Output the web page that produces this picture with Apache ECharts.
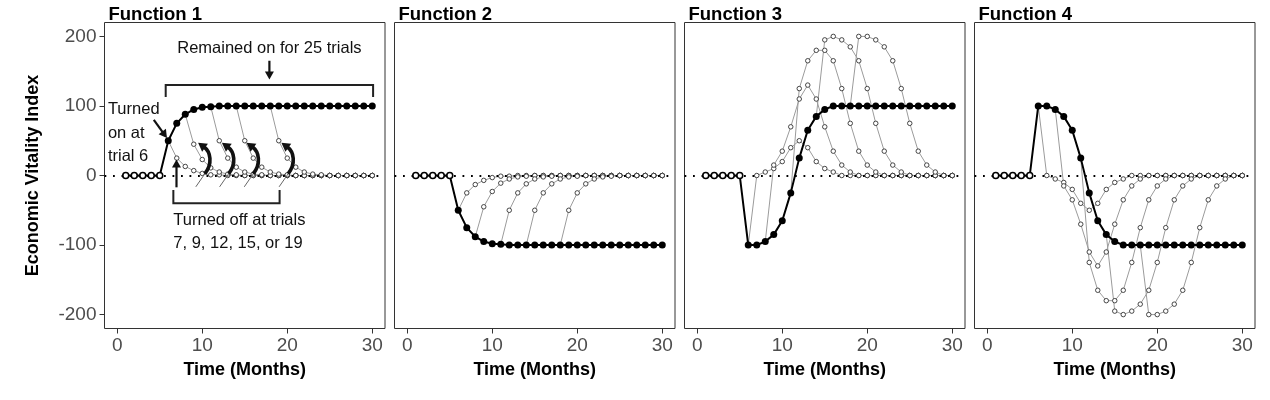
<!DOCTYPE html>
<html><head><meta charset="utf-8">
<script src="https://cdn.jsdelivr.net/npm/echarts@6/dist/echarts.min.js"></script>
<style>html,body{margin:0;padding:0;background:#fff}#c{width:1270px;height:400px}</style>
</head><body><div id="c"></div>
<script>
const N = null;
const trials = [1,2,3,4,5,6,7,8,9,10,11,12,13,14,15,16,17,18,19,20,21,22,23,24,25,26,27,28,29,30];
const xTicks = [0,10,20,30];
const yTicks = [-200,-100,0,100,200];
const panelTitles = ['Function 1','Function 2','Function 3','Function 4'];
const xTitle = 'Time (Months)';
const yTitle = 'Economic Vitality Index';
const turnedOnTrial = 6;

// Function 1
const f1_main  = [0,0,0,0,0, 50,75,88,95,98, 99,100,100,100,100, 100,100,100,100,100, 100,100,100,100,100, 100,100,100,100,100];
const f1_off7  = [N,N,N,N,N, 50,25,13,7,3, 1,1,0,0,0, 0,0,0,0,0, 0,0,0,0,0, 0,0,0,0,0];
const f1_off9  = [N,N,N,N,N, N,N,88,45,23, 11,5,2,1,0, 0,0,0,0,0, 0,0,0,0,0, 0,0,0,0,0];
const f1_off12 = [N,N,N,N,N, N,N,N,N,N, 99,50,25,12,5, 2,1,0,0,0, 0,0,0,0,0, 0,0,0,0,0];
const f1_off15 = [N,N,N,N,N, N,N,N,N,N, N,N,N,100,50, 25,12,5,2,1, 0,0,0,0,0, 0,0,0,0,0];
const f1_off19 = [N,N,N,N,N, N,N,N,N,N, N,N,N,N,N, N,N,100,50,25, 12,5,2,1,0, 0,0,0,0,0];
// Function 2
const f2_main  = [0,0,0,0,0, -50,-75,-88,-95,-98, -99,-100,-100,-100,-100, -100,-100,-100,-100,-100, -100,-100,-100,-100,-100, -100,-100,-100,-100,-100];
const f2_off7  = [N,N,N,N,N, -50,-25,-13,-7,-3, -1,-1,0,0,0, 0,0,0,0,0, 0,0,0,0,0, 0,0,0,0,0];
const f2_off9  = [N,N,N,N,N, N,N,-88,-45,-23, -11,-5,-2,-1,0, 0,0,0,0,0, 0,0,0,0,0, 0,0,0,0,0];
const f2_off12 = [N,N,N,N,N, N,N,N,N,N, -99,-50,-25,-12,-5, -2,-1,0,0,0, 0,0,0,0,0, 0,0,0,0,0];
const f2_off15 = [N,N,N,N,N, N,N,N,N,N, N,N,N,-100,-50, -25,-12,-5,-2,-1, 0,0,0,0,0, 0,0,0,0,0];
const f2_off19 = [N,N,N,N,N, N,N,N,N,N, N,N,N,N,N, N,N,-100,-50,-25, -12,-5,-2,-1,0, 0,0,0,0,0];
// Function 3
const f3_main  = [0,0,0,0,0, -100,-100,-95,-85,-65, -25,25,65,85,95, 100,100,100,100,100, 100,100,100,100,100, 100,100,100,100,100];
const f3_off7  = [N,N,N,N,N, -100,0,5,10,20, 40,50,40,20,10, 5,0,0,0,0, 0,0,0,0,0, 0,0,0,0,0];
const f3_off9  = [N,N,N,N,N, N,N,-95,15,35, 70,110,130,110,70, 35,15,5,0,0, 0,0,0,0,0, 0,0,0,0,0];
const f3_off12 = [N,N,N,N,N, N,N,N,N,N, -25,125,165,180,180, 165,125,75,35,15, 5,0,0,0,0, 0,0,0,0,0];
const f3_off15 = [N,N,N,N,N, N,N,N,N,N, N,N,N,85,195, 200,195,185,165,125, 75,35,15,5,0, 0,0,0,0,0];
const f3_off19 = [N,N,N,N,N, N,N,N,N,N, N,N,N,N,N, N,N,100,200,200, 195,185,165,125,75, 35,15,5,0,0];
// Function 4
const f4_main  = [0,0,0,0,0, 100,100,95,85,65, 25,-25,-65,-85,-95, -100,-100,-100,-100,-100, -100,-100,-100,-100,-100, -100,-100,-100,-100,-100];
const f4_off7  = [N,N,N,N,N, 100,0,-5,-10,-20, -40,-50,-40,-20,-10, -5,0,0,0,0, 0,0,0,0,0, 0,0,0,0,0];
const f4_off9  = [N,N,N,N,N, N,N,95,-15,-35, -70,-110,-130,-110,-70, -35,-15,-5,0,0, 0,0,0,0,0, 0,0,0,0,0];
const f4_off12 = [N,N,N,N,N, N,N,N,N,N, 25,-125,-165,-180,-180, -165,-125,-75,-35,-15, -5,0,0,0,0, 0,0,0,0,0];
const f4_off15 = [N,N,N,N,N, N,N,N,N,N, N,N,N,-85,-195, -200,-195,-185,-165,-125, -75,-35,-15,-5,0, 0,0,0,0,0];
const f4_off19 = [N,N,N,N,N, N,N,N,N,N, N,N,N,N,N, N,N,-100,-200,-200, -195,-185,-165,-125,-75, -35,-15,-5,0,0];

const panels = [
  {main: f1_main, offs: [f1_off7, f1_off9, f1_off12, f1_off15, f1_off19]},
  {main: f2_main, offs: [f2_off7, f2_off9, f2_off12, f2_off15, f2_off19]},
  {main: f3_main, offs: [f3_off7, f3_off9, f3_off12, f3_off15, f3_off19]},
  {main: f4_main, offs: [f4_off7, f4_off9, f4_off12, f4_off15, f4_off19]}
];

const FONT = 'Liberation Sans, Arial, Helvetica, sans-serif';
const gridLefts = [104.5, 394.5, 684.5, 974.5];
const gridW = 280.5, gridTop = 22.5, gridH = 306;

const chart = echarts.init(document.getElementById('c'), null, {renderer: 'canvas'});

const grids = [], xAxes = [], yAxes = [], series = [], titles = [];
panels.forEach((p, i) => {
  grids.push({left: gridLefts[i], top: gridTop, width: gridW, height: gridH, show: true,
    borderColor: '#333', borderWidth: 1, backgroundColor: 'transparent', containLabel: false});
  titles.push({text: panelTitles[i], left: gridLefts[i] - 1, top: 0,
    textStyle: {fontFamily: FONT, fontWeight: 'bold', fontSize: 18.5, color: '#000'}});
  xAxes.push({type: 'value', gridIndex: i, min: -1.5, max: 31.5,
    axisLine: {show: false, onZero: false}, splitLine: {show: false},
    axisTick: {show: true, length: 5, lineStyle: {color: '#333', width: 1}, customValues: xTicks},
    axisLabel: {customValues: xTicks, color: '#4d4d4d', fontSize: 19, margin: 8, fontFamily: FONT},
    name: xTitle, nameLocation: 'middle', nameGap: 33,
    nameTextStyle: {fontFamily: FONT, fontWeight: 'bold', fontSize: 18, color: '#000'}});
  yAxes.push({type: 'value', gridIndex: i, min: -220, max: 220,
    axisLine: {show: false, onZero: false}, splitLine: {show: false},
    axisTick: {show: i === 0, length: 5, lineStyle: {color: '#333', width: 1}, customValues: yTicks},
    axisLabel: {show: i === 0, customValues: yTicks, color: '#4d4d4d', fontSize: 19, margin: 8, fontFamily: FONT},
    name: i === 0 ? yTitle : '', nameLocation: 'middle', nameGap: 62,
    nameTextStyle: {fontFamily: FONT, fontWeight: 'bold', fontSize: 18, color: '#000'}});

  p.offs.forEach((arr, k) => {
    const data = [];
    let first = true;
    trials.forEach((t, j) => {
      if (arr[j] === null) return;
      if (first) { data.push({value: [t, arr[j]], symbol: 'none'}); first = false; }
      else data.push([t, arr[j]]);
    });
    const s = {type: 'line', xAxisIndex: i, yAxisIndex: i, data, symbol: 'circle', symbolSize: 4.5,
      showAllSymbol: true, silent: true, animation: false, z: 2,
      lineStyle: {color: '#9b9b9b', width: 1},
      itemStyle: {color: '#fff', borderColor: '#333', borderWidth: 0.9},
      emphasis: {disabled: true}};
    if (k === 0) {
      s.markLine = {silent: true, symbol: ['none', 'none'], label: {show: false}, animation: false,
        lineStyle: {color: '#000', type: [1.8, 6.7], width: 1.8}, emphasis: {disabled: true},
        data: [{yAxis: 0}]};
    }
    series.push(s);
  });
  const mdata = trials.map((t, j) => t < turnedOnTrial
    ? {value: [t, p.main[j]], symbolSize: 6, itemStyle: {color: '#fff', borderColor: '#000', borderWidth: 1.6}}
    : [t, p.main[j]]);
  series.push({type: 'line', xAxisIndex: i, yAxisIndex: i, data: mdata, symbol: 'circle', symbolSize: 7,
    showAllSymbol: true, silent: true, animation: false, z: 4,
    lineStyle: {color: '#000', width: 2}, itemStyle: {color: '#000'}, emphasis: {disabled: true}});
});

chart.setOption({animation: false, title: titles, grid: grids, xAxis: xAxes, yAxis: yAxes, series});

// ---- Panel 1 annotations (anchored in data coordinates) ----
const P = (x, y) => chart.convertToPixel({gridIndex: 0}, [x, y]);
const INK = '#111';
function arrow(p1, p2, w, hl, hw) {
  const dx = p2[0] - p1[0], dy = p2[1] - p1[1], L = Math.hypot(dx, dy), ux = dx / L, uy = dy / L;
  const bx = p2[0] - ux * hl, by = p2[1] - uy * hl;
  return [
    {type: 'line', shape: {x1: p1[0], y1: p1[1], x2: bx + ux, y2: by + uy}, style: {stroke: INK, lineWidth: w}},
    {type: 'polygon', shape: {points: [[p2[0], p2[1]], [bx - uy * hw / 2, by + ux * hw / 2], [bx + uy * hw / 2, by - ux * hw / 2]]}, style: {fill: INK}}
  ];
}
function txt(p, s, align) {
  return {type: 'text', x: p[0], y: p[1], style: {text: s, fill: INK, font: '16.5px ' + FONT, align: align, verticalAlign: 'middle'}};
}
function curvedArrow(a) {
  const [ax, ay] = a;
  const ex = ax - 1, ey = ay - 27, cx2 = ax + 6, cy2 = ay - 22;
  const dx = ex - cx2, dy = ey - cy2, L = Math.hypot(dx, dy), ux = dx / L, uy = dy / L;
  const tipx = ex + ux * 7, tipy = ey + uy * 7, bx = ex - ux * 1.5, by = ey - uy * 1.5, hw = 10;
  return [
    {type: 'line', shape: {x1: ax, y1: ay, x2: ax - 9, y2: ay + 13}, style: {stroke: '#666', lineWidth: 1}},
    {type: 'bezierCurve', shape: {x1: ax, y1: ay, cpx1: ax + 8, cpy1: ay - 10, cpx2: cx2, cpy2: cy2, x2: ex, y2: ey},
      style: {stroke: INK, lineWidth: 3.6, fill: null}},
    {type: 'polygon', shape: {points: [[tipx, tipy], [bx - uy * hw / 2, by + ux * hw / 2], [bx + uy * hw / 2, by - ux * hw / 2]]}, style: {fill: INK}}
  ];
}
const g = [];
g.push(txt(P(17.9, 183), 'Remained on for 25 trials', 'center'));
g.push(...arrow(P(17.9, 165), P(17.9, 138), 2.2, 8, 9));
const b1 = [P(5.7, 113), P(5.7, 130), P(30.1, 130), P(30.1, 113)];
g.push({type: 'polyline', shape: {points: b1}, style: {stroke: '#222', lineWidth: 2, fill: null}});
g.push(txt(P(-1.1, 95), 'Turned', 'left'));
g.push(txt(P(-1.1, 61), 'on at', 'left'));
g.push(txt(P(-1.1, 27), 'trial 6', 'left'));
g.push(...arrow(P(4.3, 80), P(5.85, 54), 2.2, 8, 9));
g.push(...arrow(P(6.97, -17), P(6.97, 23), 2.2, 8, 9));
const b2 = [P(6.6, -21), P(6.6, -40), P(19.1, -40), P(19.1, -21)];
g.push({type: 'polyline', shape: {points: b2}, style: {stroke: '#222', lineWidth: 2, fill: null}});
g.push(txt(P(6.6, -64), 'Turned off at trials', 'left'));
g.push(txt(P(6.6, -97), '7, 9, 12, 15, or 19', 'left'));
[10.3, 13.1, 16.0, 20.1].forEach(x => g.push(...curvedArrow(P(x, 2.4))));
chart.setOption({graphic: {elements: g.map(e => Object.assign({silent: true, z: 100}, e))}});
</script>
</body></html>
